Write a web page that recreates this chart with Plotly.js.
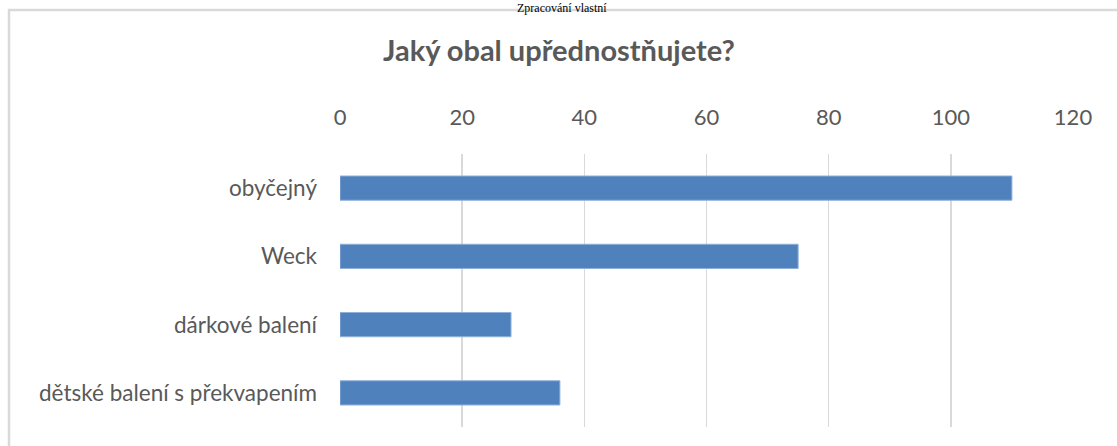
<!DOCTYPE html>
<html>
<head>
<meta charset="utf-8">
<script src="https://cdn.plot.ly/plotly-3.0.1.min.js"></script>
<style>html,body{margin:0;padding:0;background:#fff;} #chart{width:1117px;height:446px;}</style>
</head>
<body>
<div id="chart"></div>
<script>
const categories = ["obyčejný", "Weck", "dárkové balení", "dětské balení s překvapením"];
const values = [110, 75, 28, 36];
const tickValues = [0, 20, 40, 60, 80, 100, 120];
const chartTitle = "Jaký obal upřednostňujete?";
const sourceNote = "Zpracování vlastní";

const W = 1117, H = 446;
const L = 340, R = 1073, T = 154, B = 427;
const px = x => (x - L) / (R - L);
const py = y => (B - y) / (B - T);
const txt = '#595959';
const font = 'Lato, "Open Sans", sans-serif';

const trace = {
  type: 'bar',
  orientation: 'h',
  y: categories,
  x: values,
  marker: {color: '#4F81BD', line: {color: '#8fb0d8', width: 1}},
  hoverinfo: 'x+y'
};

const layout = {
  width: W, height: H,
  margin: {l: L, r: W - R, t: T, b: H - B, pad: 0},
  paper_bgcolor: '#fff', plot_bgcolor: '#fff',
  showlegend: false,
  bargap: 0.645,
  xaxis: {
    side: 'top', range: [0, 120], tickvals: tickValues, ticktext: tickValues.map(String),
    showgrid: true, gridcolor: '#d9d9d9', gridwidth: 1.5, zeroline: false, showline: false,
    ticks: '', ticklabelstandoff: 24,
    tickfont: {family: font, size: 22, color: txt}, fixedrange: true
  },
  yaxis: {
    type: 'category', autorange: 'reversed', showgrid: false, zeroline: false, showline: false,
    ticks: '', ticklabelstandoff: 22,
    tickfont: {family: font, size: 22.5, color: txt}, fixedrange: true
  },
  shapes: [
    {type: 'line', xref: 'paper', yref: 'paper', x0: px(9), x1: px(9), y0: py(460), y1: py(9), line: {color: '#d9d9d9', width: 2.5}},
    {type: 'line', xref: 'paper', yref: 'paper', x0: px(8), x1: px(1130), y0: py(10), y1: py(10), line: {color: '#d9d9d9', width: 2.5}}
  ],
  annotations: [
    {text: chartTitle, xref: 'paper', yref: 'paper', x: px(559), y: py(49), xanchor: 'center', yanchor: 'middle', showarrow: false,
     font: {family: font, size: 29, weight: 'bold', color: txt}},
    {text: sourceNote, xref: 'paper', yref: 'paper', x: px(562), y: py(-1), xanchor: 'center', yanchor: 'top', showarrow: false,
     font: {family: '"Liberation Serif", "Times New Roman", serif', size: 12, color: '#000'}}
  ]
};

Plotly.newPlot('chart', [trace], layout, {displayModeBar: false, staticPlot: true});
</script>
</body>
</html>
